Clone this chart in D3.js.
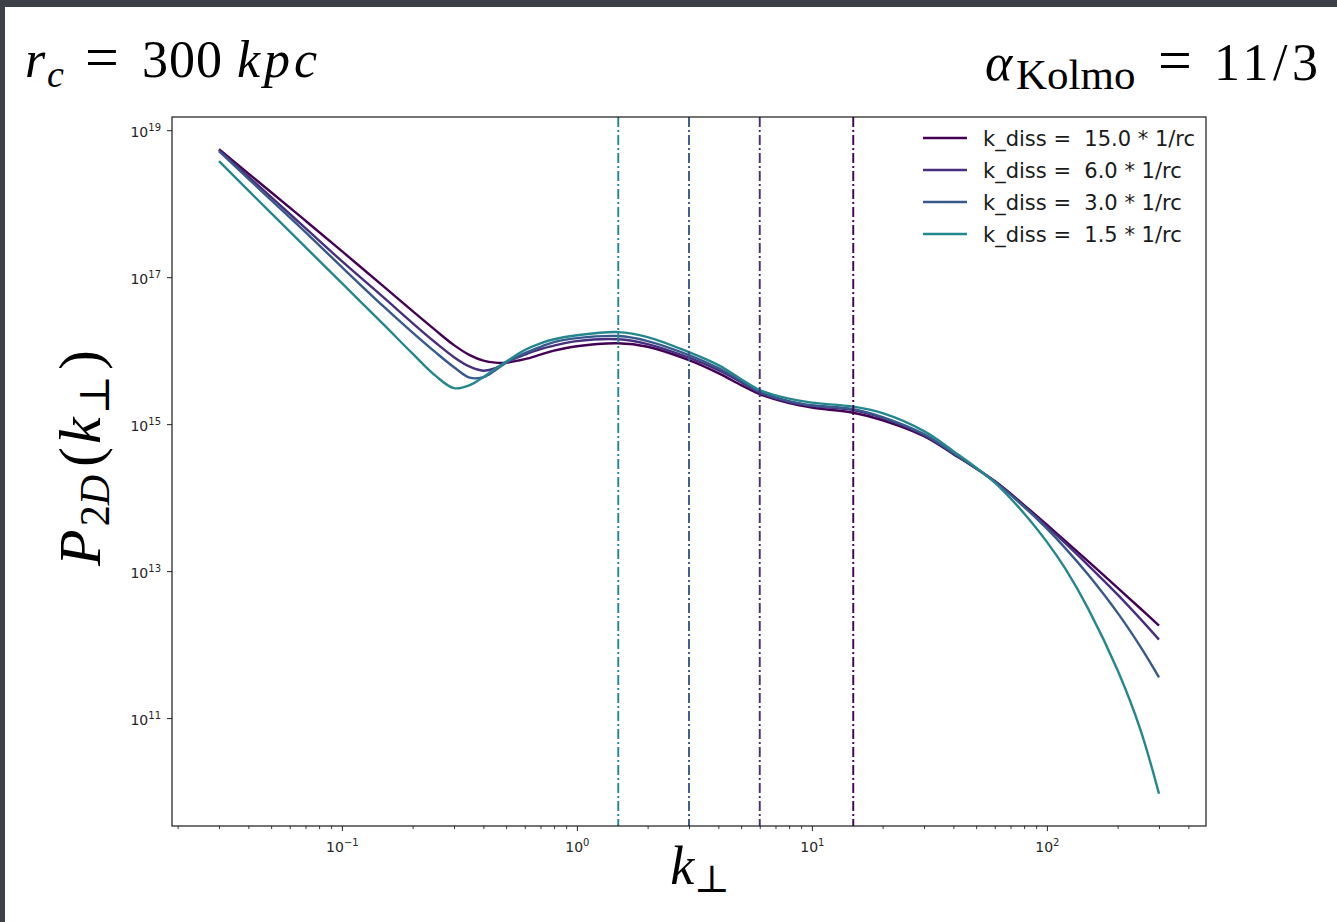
<!DOCTYPE html>
<html>
<head>
<meta charset="utf-8">
<script src="https://cdn.jsdelivr.net/npm/d3@7"></script>
<style>
  html, body { margin: 0; padding: 0; background: #3d4047; }
  svg { display: block; }
</style>
</head>
<body>
<svg id="chart" width="1337" height="922"></svg>
<script>
// Perpendicular wavenumber samples (in units of 1/rc)
const kPerp = [0.03, 0.05, 0.07, 0.1, 0.15, 0.2, 0.25, 0.3, 0.35, 0.4, 0.45, 0.5, 0.6, 0.7, 0.8, 1,
               1.5, 2, 3, 4, 5, 6, 8, 10, 15, 20, 30, 40, 60, 80, 100, 120, 150, 200, 250, 300];

// Dissipation scales, one per curve
const kDiss = [15.0, 6.0, 3.0, 1.5];

// P_2D(k_perp) for each dissipation scale
const p2dDiss15 = [5.51e18, 1.43e18, 5.87e17, 2.26e17, 7.54e16, 3.45e16, 1.90e16, 1.19e16, 8.69e15, 7.31e15,
                   6.87e15, 6.87e15, 7.66e15, 8.82e15, 1.00e16, 1.15e16, 1.26e16, 1.13e16, 7.43e15, 4.94e15,
                   3.39e15, 2.56e15, 1.93e15, 1.68e15, 1.43e15, 1.13e15, 6.87e14, 3.91e14, 1.68e14, 7.91e13,
                   4.28e13, 2.56e13, 1.36e13, 5.93e12, 3.10e12, 1.81e12];
const p2dDiss6  = [5.34e18, 1.23e18, 4.64e17, 1.65e17, 5.34e16, 2.37e16, 1.29e16, 8.16e15, 6.06e15, 5.34e15,
                   5.78e15, 6.98e15, 8.82e15, 1.05e16, 1.17e16, 1.35e16, 1.43e16, 1.23e16, 8.03e15, 5.43e15,
                   3.73e15, 2.68e15, 1.99e15, 1.76e15, 1.55e15, 1.21e15, 7.09e14, 4.03e14, 1.65e14, 7.64e13,
                   4.07e13, 2.38e13, 1.20e13, 4.79e12, 2.24e12, 1.17e12];
const p2dDiss3  = [5.18e18, 1.12e18, 4.09e17, 1.37e17, 4.03e16, 1.76e16, 9.54e15, 5.96e15, 4.29e15, 4.36e15,
                   5.43e15, 6.87e15, 9.25e15, 1.13e16, 1.31e16, 1.48e16, 1.58e16, 1.35e16, 8.69e15, 5.78e15,
                   3.91e15, 2.77e15, 2.06e15, 1.81e15, 1.60e15, 1.25e15, 7.31e14, 4.03e14, 1.65e14, 7.50e13,
                   3.78e13, 2.04e13, 8.91e12, 2.70e12, 9.39e11, 3.59e11];
const p2dDiss1p5 = [3.79e18, 7.43e17, 2.56e17, 8.29e16, 2.29e16, 9.10e15, 4.57e15, 3.09e15, 3.39e15, 4.36e15,
                   5.69e15, 7.09e15, 1.02e16, 1.26e16, 1.43e16, 1.62e16, 1.79e16, 1.53e16, 9.54e15, 6.35e15,
                   4.09e15, 2.90e15, 2.22e15, 1.96e15, 1.73e15, 1.41e15, 8.03e14, 4.29e14, 1.60e14, 6.10e13,
                   2.50e13, 1.07e13, 3.07e12, 4.47e11, 6.98e10, 9.34e9];

const seriesLabels = ["k_diss =  15.0 * 1/rc", "k_diss =  6.0 * 1/rc", "k_diss =  3.0 * 1/rc", "k_diss =  1.5 * 1/rc"];

// Axis ticks
const xMajorTicks = [0.1, 1, 10, 100];
const xMajorExponents = ["\u22121", "0", "1", "2"];
const yMajorTicks = [1e11, 1e13, 1e15, 1e17, 1e19];
const yMajorExponents = ["11", "13", "15", "17", "19"];

// ---------------------------------------------------------------
const colors = ["#440154", "#472f7d", "#38598c", "#25878e"];
const seriesValues = [p2dDiss15, p2dDiss6, p2dDiss3, p2dDiss1p5];
const series = kDiss.map((kd, i) => ({
  kd, label: seriesLabels[i], color: colors[i],
  points: kPerp.map((k, j) => ({ k, p: seriesValues[i][j] }))
}));

const W = 1337, H = 922;
const plot = { left: 172, right: 1206, top: 117, bottom: 826 };

const svg = d3.select("#chart");

// slide panel
svg.append("rect").attr("width", W).attr("height", H).attr("fill", "#3d4047");
svg.append("rect").attr("x", 5).attr("y", 7).attr("width", W - 5).attr("height", H - 7).attr("fill", "#ffffff");

// log scales with 5% padding in decades, as matplotlib does
function paddedLogDomain(vals) {
  const lo = Math.log10(d3.min(vals)), hi = Math.log10(d3.max(vals));
  const pad = 0.05 * (hi - lo);
  return [Math.pow(10, lo - pad), Math.pow(10, hi + pad)];
}
const allP = seriesValues.flat();
const x = d3.scaleLog().domain(paddedLogDomain(kPerp)).range([plot.left, plot.right]);
const y = d3.scaleLog().domain(paddedLogDomain(allP)).range([plot.bottom, plot.top]);

const defs = svg.append("defs");
defs.append("clipPath").attr("id", "plotClip")
  .append("rect").attr("x", plot.left).attr("y", plot.top)
  .attr("width", plot.right - plot.left).attr("height", plot.bottom - plot.top);

const body = svg.append("g").attr("clip-path", "url(#plotClip)");

// curves
const line = d3.line().x(d => x(d.k)).y(d => y(d.p)).curve(d3.curveCatmullRom.alpha(0.5));
body.selectAll("path.curve").data(series).join("path")
  .attr("class", "curve")
  .attr("d", d => line(d.points))
  .attr("fill", "none")
  .attr("stroke", d => d.color)
  .attr("stroke-width", 2.4)
  .attr("stroke-linejoin", "round");

// dissipation scales as dash-dot verticals
body.selectAll("line.kdiss").data(series).join("line")
  .attr("class", "kdiss")
  .attr("x1", d => x(d.kd)).attr("x2", d => x(d.kd))
  .attr("y1", plot.top).attr("y2", plot.bottom)
  .attr("stroke", d => d.color)
  .attr("stroke-width", 1.9)
  .attr("stroke-dasharray", "10,3,2,3");

// minor x ticks
const [xd0, xd1] = x.domain();
const xMinor = [];
for (let e = Math.floor(Math.log10(xd0)); e <= Math.ceil(Math.log10(xd1)); e++) {
  for (let m = 2; m <= 9; m++) {
    const v = m * Math.pow(10, e);
    if (v >= xd0 && v <= xd1) xMinor.push(v);
  }
}
svg.append("g").attr("transform", `translate(0,${plot.bottom})`)
  .call(d3.axisBottom(x).tickValues(xMinor).tickSize(3).tickSizeOuter(0).tickFormat(() => ""))
  .call(g => g.select(".domain").remove())
  .call(g => g.selectAll(".tick line").attr("stroke", "#222").attr("stroke-width", 0.9));

// major x ticks with 10^n labels
const gx = svg.append("g").attr("transform", `translate(0,${plot.bottom})`)
  .call(d3.axisBottom(x).tickValues(xMajorTicks).tickSize(5).tickSizeOuter(0).tickPadding(6).tickFormat(() => ""))
  .call(g => g.select(".domain").remove())
  .call(g => g.selectAll(".tick line").attr("stroke", "#222").attr("stroke-width", 1));
gx.selectAll(".tick text").each(function (d, i) {
  const t = d3.select(this).text(null)
    .attr("font-family", "DejaVu Sans, sans-serif").attr("font-size", 14).attr("fill", "#262626")
    .attr("dy", "1.05em");
  t.append("tspan").text("10");
  t.append("tspan").attr("dy", -6).attr("font-size", 10).text(xMajorExponents[i]);
});

// major y ticks with 10^n labels
const gy = svg.append("g").attr("transform", `translate(${plot.left},0)`)
  .call(d3.axisLeft(y).tickValues(yMajorTicks).tickSize(5).tickSizeOuter(0).tickPadding(6).tickFormat(() => ""))
  .call(g => g.select(".domain").remove())
  .call(g => g.selectAll(".tick line").attr("stroke", "#222").attr("stroke-width", 1));
gy.selectAll(".tick text").each(function (d, i) {
  const t = d3.select(this).text(null)
    .attr("font-family", "DejaVu Sans, sans-serif").attr("font-size", 14).attr("fill", "#262626")
    .attr("dy", "0.45em");
  t.append("tspan").text("10");
  t.append("tspan").attr("dy", -6).attr("font-size", 10).text(yMajorExponents[i]);
});

// frame
svg.append("rect")
  .attr("x", plot.left).attr("y", plot.top)
  .attr("width", plot.right - plot.left).attr("height", plot.bottom - plot.top)
  .attr("fill", "none").attr("stroke", "#1a1a1a").attr("stroke-width", 1.2);

// legend
const legend = svg.append("g").attr("transform", "translate(923,138)");
const rows = legend.selectAll("g").data(series).join("g")
  .attr("transform", (d, i) => `translate(0,${i * 32})`);
rows.append("line").attr("x1", 0).attr("x2", 44).attr("y1", 0).attr("y2", 0)
  .attr("stroke", d => d.color).attr("stroke-width", 2.5);
rows.append("text").attr("x", 60).attr("y", 7.5)
  .attr("font-family", "DejaVu Sans, sans-serif").attr("font-size", 21).attr("fill", "#1a1a1a")
  .style("white-space", "pre")
  .text(d => d.label);

// math-style annotations
const serif = "Liberation Serif, DejaVu Serif, serif";
const big = 52, small = 38;

const tl = svg.append("g").attr("font-family", serif).attr("font-size", big).attr("fill", "#000");
tl.append("text").attr("x", 25).attr("y", 77).attr("font-style", "italic").text("r");
tl.append("text").attr("x", 47).attr("y", 87).attr("font-size", small).attr("font-style", "italic").text("c");
tl.append("text").attr("x", 85).attr("y", 77).attr("font-size", 60).text("=");
tl.append("text").attr("x", 142).attr("y", 77).attr("letter-spacing", 1).text("300");
tl.append("text").attr("x", 237).attr("y", 77).attr("font-style", "italic").attr("letter-spacing", 4).text("kpc");

const tr = svg.append("g").attr("font-family", serif).attr("font-size", big).attr("fill", "#000");
tr.append("text").attr("x", 985).attr("y", 80).attr("font-style", "italic").text("\u03b1");
tr.append("text").attr("x", 1016).attr("y", 89).attr("font-size", 43).text("Kolmo");
tr.append("text").attr("x", 1158).attr("y", 80).attr("font-size", 60).text("=");
tr.append("text").attr("x", 1214).attr("y", 80).attr("letter-spacing", 4.5).text("11/3");

const yl = svg.append("text")
  .attr("transform", "translate(100,566) rotate(-90)")
  .attr("font-family", serif).attr("font-size", 60).attr("fill", "#000");
yl.append("tspan").attr("font-style", "italic").text("P");
yl.append("tspan").attr("font-size", 42).attr("dy", 9).attr("dx", 3).text("2");
yl.append("tspan").attr("font-size", 42).attr("font-style", "italic").text("D");
yl.append("tspan").attr("dy", -9).attr("dx", 8).text("(");
yl.append("tspan").attr("font-style", "italic").attr("dx", 3).text("k");
yl.append("tspan").attr("font-size", 42).attr("dy", 9).attr("dx", 3).text("\u22a5");
yl.append("tspan").attr("dy", -9).attr("dx", 5).text(")");

const xl = svg.append("text").attr("x", 700).attr("y", 884).attr("text-anchor", "middle")
  .attr("font-family", serif).attr("font-size", 54).attr("fill", "#000");
xl.append("tspan").attr("font-style", "italic").text("k");
xl.append("tspan").attr("font-size", 38).attr("dy", 8).text("\u22a5");
</script>
</body>
</html>
